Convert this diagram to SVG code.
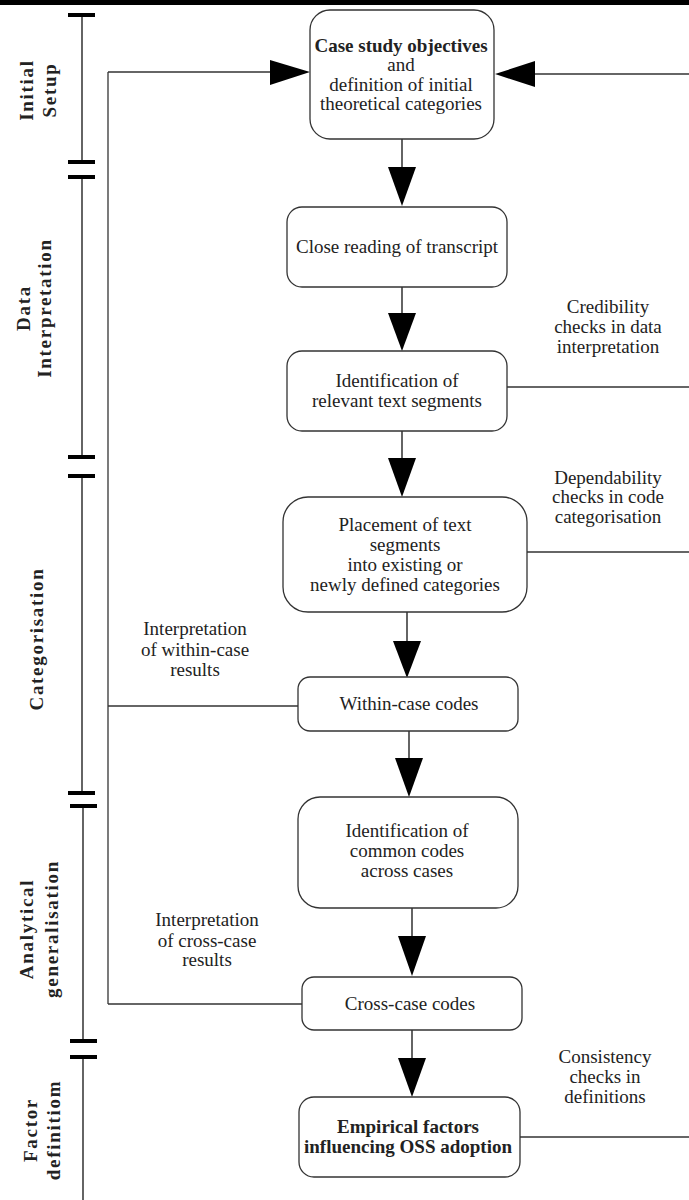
<svg xmlns="http://www.w3.org/2000/svg" width="689" height="1200" viewBox="0 0 689 1200">
<style>
.box{fill:#fff;stroke:#333;stroke-width:1.3}
.t{font-family:"Liberation Serif","Times New Roman",serif;font-size:19px;fill:#222;text-anchor:middle}
.b{font-weight:bold}
.ph{font-family:"Liberation Serif","Times New Roman",serif;font-size:19px;font-weight:bold;fill:#222;text-anchor:middle;letter-spacing:1.7px}
.ln{stroke:#333;stroke-width:1.3;fill:none}
.tl{stroke:#111;stroke-width:1.3;fill:none}
.tk{stroke:#000;stroke-width:4}
.ah{fill:#000;stroke:none}
</style>
<rect x="0" y="0" width="689" height="5" fill="#000"/>

<g id="timeline">
  <line class="tl" x1="82" y1="15" x2="82" y2="162"/>
  <line class="tk" x1="68" y1="15" x2="95" y2="15"/>
  <line class="tk" x1="68" y1="162" x2="95" y2="162"/>
  <line class="tl" x1="82" y1="177" x2="82" y2="457"/>
  <line class="tk" x1="68" y1="177" x2="95" y2="177"/>
  <line class="tk" x1="68" y1="457" x2="95" y2="457"/>
  <line class="tl" x1="82" y1="476" x2="82" y2="793"/>
  <line class="tk" x1="68" y1="476" x2="95" y2="476"/>
  <line class="tk" x1="68" y1="793" x2="95" y2="793"/>
  <line class="tl" x1="83" y1="806" x2="83" y2="1041"/>
  <line class="tk" x1="70" y1="806" x2="97" y2="806"/>
  <line class="tk" x1="70" y1="1041" x2="97" y2="1041"/>
  <line class="tl" x1="83" y1="1057" x2="83" y2="1200"/>
  <line class="tk" x1="70" y1="1057" x2="97" y2="1057"/>
</g>

<g id="phase-labels">
  <g id="phase-initial" transform="translate(0,90) rotate(-90)">
    <text class="ph" x="0" y="33">Initial</text>
    <text class="ph" x="0" y="56">Setup</text>
  </g>
  <g id="phase-data" transform="translate(0,308) rotate(-90)">
    <text class="ph" x="0" y="30">Data</text>
    <text class="ph" x="0" y="51">Interpretation</text>
  </g>
  <g id="phase-cat" transform="translate(0,639) rotate(-90)">
    <text class="ph" x="0" y="43">Categorisation</text>
  </g>
  <g id="phase-anal" transform="translate(0,929) rotate(-90)">
    <text class="ph" x="0" y="33">Analytical</text>
    <text class="ph" x="0" y="58">generalisation</text>
  </g>
  <g id="phase-factor" transform="translate(0,1130) rotate(-90)">
    <text class="ph" x="0" y="37">Factor</text>
    <text class="ph" x="0" y="60">definitiom</text>
  </g>
</g>

<g id="connectors">
  <line class="ln" x1="108" y1="72" x2="108" y2="1004"/>
  <line class="ln" x1="108" y1="72" x2="272" y2="72"/>
  <polygon class="ah" points="270,60 270,85 310,72"/>
  <line class="ln" x1="108" y1="706" x2="298" y2="706"/>
  <line class="ln" x1="108" y1="1004" x2="302" y2="1004"/>

  <line class="ln" x1="689" y1="74" x2="533" y2="74"/>
  <polygon class="ah" points="535,61 535,87 495,74"/>
  <line class="ln" x1="507" y1="387" x2="689" y2="387"/>
  <line class="ln" x1="527" y1="552" x2="689" y2="552"/>
  <line class="ln" x1="520" y1="1137" x2="689" y2="1137"/>

  <line class="tl" x1="402" y1="139" x2="402" y2="168"/>
  <polygon class="ah" points="388,167 416,167 402,206"/>
  <line class="tl" x1="402" y1="287" x2="402" y2="314"/>
  <polygon class="ah" points="388,313 416,313 402,351"/>
  <line class="tl" x1="402" y1="431" x2="402" y2="459"/>
  <polygon class="ah" points="388,458 416,458 402,497"/>
  <line class="tl" x1="407" y1="612" x2="407" y2="642"/>
  <polygon class="ah" points="393,641 421,641 407,678"/>
  <line class="tl" x1="409" y1="731" x2="409" y2="759"/>
  <polygon class="ah" points="395,758 423,758 409,797"/>
  <line class="tl" x1="412" y1="908" x2="412" y2="937"/>
  <polygon class="ah" points="398,936 426,936 412,976"/>
  <line class="tl" x1="412" y1="1030" x2="412" y2="1059"/>
  <polygon class="ah" points="398,1058 426,1058 412,1097"/>
</g>

<g id="edge-labels">
  <g id="lbl-credibility">
    <text class="t" x="608" y="313">Credibility</text>
    <text class="t" x="608" y="333">checks in data</text>
    <text class="t" x="608" y="353">interpretation</text>
  </g>
  <g id="lbl-dependability">
    <text class="t" x="608" y="484">Dependability</text>
    <text class="t" x="608" y="503">checks in code</text>
    <text class="t" x="608" y="523">categorisation</text>
  </g>
  <g id="lbl-within">
    <text class="t" x="195" y="635">Interpretation</text>
    <text class="t" x="195" y="656">of within-case</text>
    <text class="t" x="195" y="676">results</text>
  </g>
  <g id="lbl-cross">
    <text class="t" x="207" y="926">Interpretation</text>
    <text class="t" x="207" y="947">of cross-case</text>
    <text class="t" x="207" y="966">results</text>
  </g>
  <g id="lbl-consistency">
    <text class="t" x="605" y="1063">Consistency</text>
    <text class="t" x="605" y="1083">checks in</text>
    <text class="t" x="605" y="1103">definitions</text>
  </g>
</g>

<g id="n1">
  <rect class="box" x="310" y="10" width="184" height="129" rx="20"/>
  <text class="t b" x="401" y="52">Case study objectives</text>
  <text class="t" x="401" y="71">and</text>
  <text class="t" x="401" y="91">definition of initial</text>
  <text class="t" x="401" y="110">theoretical categories</text>
</g>
<g id="n2">
  <rect class="box" x="287" y="207" width="220" height="80" rx="15"/>
  <text class="t" x="397" y="253">Close reading of transcript</text>
</g>
<g id="n3">
  <rect class="box" x="287" y="351" width="220" height="80" rx="15"/>
  <text class="t" x="397" y="387">Identification of</text>
  <text class="t" x="397" y="407">relevant text segments</text>
</g>
<g id="n4">
  <rect class="box" x="283" y="497" width="244" height="115" rx="25"/>
  <text class="t" x="405" y="531">Placement of text</text>
  <text class="t" x="405" y="551">segments</text>
  <text class="t" x="405" y="571">into existing or</text>
  <text class="t" x="405" y="591">newly defined categories</text>
</g>
<g id="n5">
  <rect class="box" x="298" y="677" width="220" height="54" rx="12"/>
  <text class="t" x="409" y="710">Within-case codes</text>
</g>
<g id="n6">
  <rect class="box" x="298" y="797" width="220" height="111" rx="22"/>
  <text class="t" x="407" y="837">Identification of</text>
  <text class="t" x="407" y="857">common codes</text>
  <text class="t" x="407" y="877">across cases</text>
</g>
<g id="n7">
  <rect class="box" x="302" y="977" width="220" height="53" rx="12"/>
  <text class="t" x="410" y="1010">Cross-case codes</text>
</g>
<g id="n8">
  <rect class="box" x="299" y="1097" width="221" height="80" rx="15"/>
  <text class="t b" x="408" y="1133">Empirical factors</text>
  <text class="t b" x="408" y="1153">influencing OSS adoption</text>
</g>
</svg>
